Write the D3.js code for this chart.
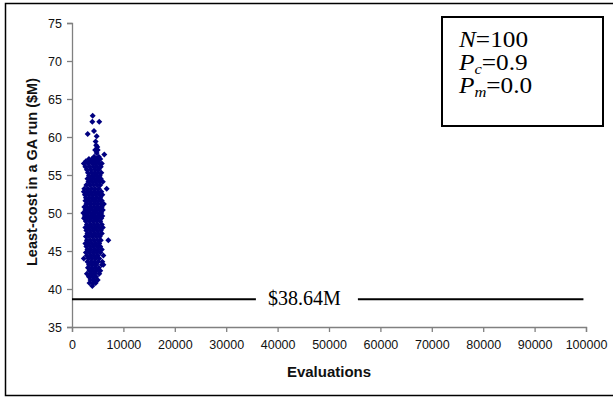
<!DOCTYPE html>
<head>
    <meta charset="utf-8">
    <script src="https://d3js.org/d3.v7.min.js"></script>
    <style>
        *{ margin:0; padding:0; }
        body{ background:#fff; }
        svg{ display:block; }
        text{ font-family: "Liberation Sans", Arial, sans-serif; }
    </style>
</head>
<body>
<svg id="chart"></svg>
<script>
    // least-cost per GA run: [evaluations, cost $M]
    const runs = [
        [4030,62.8],[3950,62.0],[5300,62.0],[4280,60.8],[3050,60.4],[4800,60.1],[4600,59.4],
        [4700,58.9],[4930,58.7],[4500,58.3],[5000,58.3],[4800,57.9],[6290,57.7],
        [4300,57.4],[5200,57.4],[3300,57.1],[3900,57.1],[4700,57.1],[5500,57.1],
        [2700,56.8],[3600,56.8],[4400,56.8],[5000,56.8],
        [2300,56.5],[3100,56.5],[3900,56.5],[4600,56.5],[5300,56.5],[5800,56.5],
        [2600,56.1],[3400,56.1],[4200,56.1],[4900,56.1],[5600,56.1],
        [2900,55.7],[3700,55.7],[4500,55.7],[5200,55.7],
        [3100,55.3],[3800,55.3],[4400,55.3],[5000,55.3],[5700,55.3],
        [3300,54.9],[4000,54.9],[4700,54.9],[5400,54.9],
        [3000,54.5],[3600,54.5],[4300,54.5],[5000,54.5],[5600,54.5],
        [3200,54.1],[3900,54.1],[4600,54.1],[5300,54.1],[6000,54.1],
        [2800,53.7],[3500,53.7],[4200,53.7],[4900,53.7],[5500,53.7],
        [2400,53.2],[3100,53.2],[3800,53.2],[4500,53.2],[5200,53.2],[6750,53.2],
        [2300,52.8],[2900,52.8],[3600,52.8],[4300,52.8],[5000,52.8],[5700,52.8],
        [2500,52.4],[3200,52.4],[3900,52.4],[4600,52.4],[5300,52.4],[5900,52.4],
        [2700,52.0],[3400,52.0],[4100,52.0],[4800,52.0],[5500,52.0],
        [2600,51.6],[3100,51.6],[3800,51.6],[4500,51.6],[5200,51.6],[5800,51.6],
        [2800,51.2],[3500,51.2],[4200,51.2],[4900,51.2],[5600,51.2],[6200,51.2],
        [2400,50.8],[3000,50.8],[3700,50.8],[4400,50.8],[5100,50.8],[5800,50.8],
        [2600,50.4],[3300,50.4],[4000,50.4],[4700,50.4],[5400,50.4],[6000,50.4],
        [2200,50.0],[2900,50.0],[3600,50.0],[4300,50.0],[5000,50.0],[5700,50.0],
        [2500,49.6],[3200,49.6],[3900,49.6],[4600,49.6],[5300,49.6],[5900,49.6],
        [2330,49.3],[3000,49.3],[3700,49.3],[4400,49.3],[5100,49.3],[5700,49.3],
        [2700,48.9],[3400,48.9],[4100,48.9],[4800,48.9],[5500,48.9],
        [2900,48.5],[3600,48.5],[4300,48.5],[5000,48.5],[5800,48.5],
        [2600,48.1],[3200,48.1],[3900,48.1],[4600,48.1],[5300,48.1],[6000,48.1],
        [2800,47.7],[3500,47.7],[4200,47.7],[4900,47.7],[5600,47.7],
        [3000,47.3],[3700,47.3],[4400,47.3],[5100,47.3],[5800,47.3],
        [2700,46.9],[3300,46.9],[4000,46.9],[4700,46.9],[5400,46.9],
        [2900,46.4],[3600,46.4],[4300,46.4],[5000,46.4],[5600,46.4],[7070,46.4],
        [2600,46.0],[3200,46.0],[3900,46.0],[4600,46.0],[5300,46.0],
        [2800,45.6],[3500,45.6],[4200,45.6],[4900,45.6],[5500,45.6],
        [3000,45.2],[3700,45.2],[4400,45.2],[5100,45.2],[5800,45.2],
        [2700,44.8],[3400,44.8],[4100,44.8],[4800,44.8],[5500,44.8],
        [2900,44.4],[3600,44.4],[4300,44.4],[5000,44.4],[6100,44.4],
        [2300,44.0],[3200,44.0],[3900,44.0],[4600,44.0],[5300,44.0],
        [3000,43.6],[3700,43.6],[4400,43.6],[5100,43.6],[5900,43.6],
        [3300,43.2],[4000,43.2],[4700,43.2],[5800,43.2],[6100,43.2],
        [3100,42.8],[3800,42.8],[4500,42.8],[5200,42.8],
        [3400,42.4],[4100,42.4],[4800,42.4],[5500,42.4],
        [2900,42.0],[3700,42.0],[4400,42.0],[5300,42.0],
        [3300,41.6],[4000,41.6],[4700,41.6],
        [3600,41.2],[4300,41.2],[5000,41.2],
        [3400,40.8],[4100,40.8],[4600,40.8],
        [3950,40.4]
    ];
    const bestKnown = 38.64;
    const bestLabel = "$38.64M";
    const bestLabelAt = 45000;
    const xTicks = [0,10000,20000,30000,40000,50000,60000,70000,80000,90000,100000];
    const yTicks = [35,40,45,50,55,60,65,70,75];
    const params = [
        {sym: "N", sub: "", val: "=100"},
        {sym: "P", sub: "c", val: "=0.9"},
        {sym: "P", sub: "m", val: "=0.0"}
    ];

    const width = 613, height = 398;
    const serif = "'Liberation Serif', 'Times New Roman', serif";
    const svg = d3.select("#chart").attr("width", width).attr("height", height);

    // outer frame
    svg.append("rect")
        .attr("x", 5.5).attr("y", 3.5)
        .attr("width", width + 5).attr("height", 392)
        .attr("fill", "none").attr("stroke", "#000").attr("stroke-width", 1.5);

    const x = d3.scaleLinear().domain([0, 100000]).range([72, 586]);
    const y = d3.scaleLinear().domain([35, 75]).range([327, 23]);

    const xAxis = svg.append("g")
        .attr("transform", `translate(0,${y(35)})`)
        .call(d3.axisBottom(x).tickValues(xTicks).tickSize(5).tickPadding(8).tickFormat(d3.format("d")));
    const yAxis = svg.append("g")
        .attr("transform", `translate(${x(0)},0)`)
        .call(d3.axisLeft(y).tickValues(yTicks).tickSize(5).tickPadding(5));

    [xAxis, yAxis].forEach(a => {
        a.select(".domain").attr("stroke", "#808080").attr("stroke-width", 1.3);
        a.selectAll(".tick line").attr("stroke", "#808080").attr("stroke-width", 1.3);
        a.selectAll("text").attr("font-size", 12.5).attr("fill", "#111")
            .attr("font-family", "'Liberation Sans', Arial, sans-serif");
    });

    // best known solution line with label gap
    const label = svg.append("text")
        .attr("x", x(bestLabelAt) + 1).attr("y", 305)
        .attr("text-anchor", "middle")
        .style("font-family", serif)
        .attr("font-size", 20)
        .text(bestLabel);
    const lb = label.node().getBBox();
    svg.append("line")
        .attr("x1", x(0)).attr("x2", lb.x - 12)
        .attr("y1", y(bestKnown)).attr("y2", y(bestKnown))
        .attr("stroke", "#000").attr("stroke-width", 2);
    svg.append("line")
        .attr("x1", lb.x + lb.width + 17).attr("x2", x(99500))
        .attr("y1", y(bestKnown)).attr("y2", y(bestKnown))
        .attr("stroke", "#000").attr("stroke-width", 2);

    // scatter of runs (diamond markers)
    const diamond = d3.symbol().type(d3.symbolSquare).size(18);
    svg.append("g").selectAll("path")
        .data(runs)
        .join("path")
        .attr("d", diamond)
        .attr("transform", d => `translate(${x(d[0])},${y(d[1])}) rotate(45)`)
        .attr("fill", "#000080");

    // axis titles
    svg.append("text")
        .attr("x", (x(0) + x(100000)) / 2).attr("y", 377)
        .attr("text-anchor", "middle")
        .attr("font-size", 15).attr("font-weight", "bold").attr("fill", "#111")
        .text("Evaluations");
    svg.append("text")
        .attr("transform", `translate(37,${(y(35) + y(75)) / 2 - 3}) rotate(-90)`)
        .attr("text-anchor", "middle")
        .attr("font-size", 14.5).attr("font-weight", "bold").attr("fill", "#111")
        .text("Least-cost in a GA run ($M)");

    // parameter box
    svg.append("rect")
        .attr("x", 442).attr("y", 17)
        .attr("width", 161).attr("height", 109)
        .attr("fill", "#fff").attr("stroke", "#000").attr("stroke-width", 2);
    const pt = svg.append("g")
        .attr("transform", "translate(459,0) scale(1.1,1)")
        .selectAll("text")
        .data(params)
        .join("text")
        .attr("x", 0)
        .attr("y", (d, i) => 47 + i * 23)
        .style("font-family", serif)
        .attr("font-size", 23);
    pt.append("tspan").attr("font-style", "italic").text(d => d.sym);
    pt.filter(d => d.sub).append("tspan")
        .attr("font-style", "italic").attr("font-size", 15).attr("dy", 4)
        .text(d => d.sub);
    pt.append("tspan")
        .attr("dy", d => d.sub ? -4 : 0)
        .text(d => d.val);
</script>
</body>
</html>
